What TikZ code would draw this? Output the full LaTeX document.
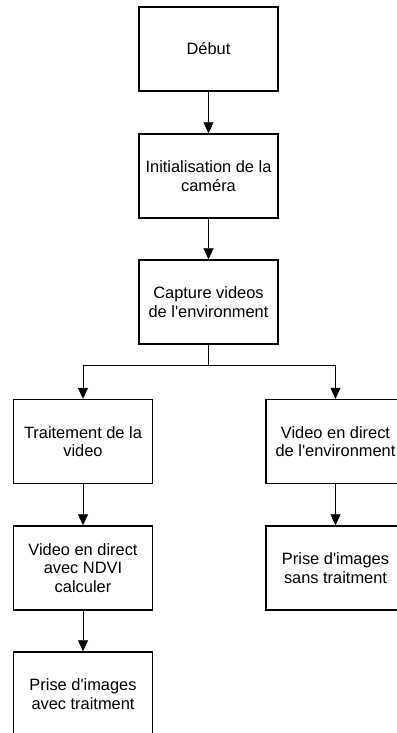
\documentclass[tikz,border=0pt]{standalone}
\usepackage{fontspec}
\setmainfont{Liberation Sans}
\usetikzlibrary{arrows.meta}
\begin{document}
\begin{tikzpicture}[x=1pt, y=-1pt,
  box/.style={draw, line width=1.4pt, minimum width=139pt, minimum height=84pt,
    align=center, inner sep=2pt, font=\fontsize{16.4}{18.6}\selectfont},
  arr/.style={-{Triangle[width=10pt,length=11pt]}, line width=0.7pt}]
\useasboundingbox (0,0) rectangle (396,733);
\node[box] (debut) at (208.5,49) {Début};
\node[box] (init) at (208.5,176) {Initialisation de la\\caméra};
\node[box] (capture) at (208.5,302) {Capture videos\\de l\textquotesingle environment};
\node[box] (trait) at (83,441.5) {Traitement de la\\video};
\node[box] (direct) at (335.5,441.5) {Video en direct\\de l\textquotesingle environment};
\node[box] (ndvi) at (83,568) {Video en direct\\avec NDVI\\calculer};
\node[box] (sans) at (335.5,568) {Prise d\textquotesingle images\\sans traitment};
\node[box] (avec) at (83,694) {Prise d\textquotesingle images\\avec traitment};
\foreach \a/\b in {debut/init, init/capture, trait/ndvi, ndvi/avec, direct/sans}
  \draw[arr] (\a) -- (\b);
\draw[line width=0.7pt] (capture.south) -- ++(0,21) coordinate (split);
\draw[arr] (split) -| (trait.north);
\draw[arr] (split) -| (direct.north);
\end{tikzpicture}
\end{document}
